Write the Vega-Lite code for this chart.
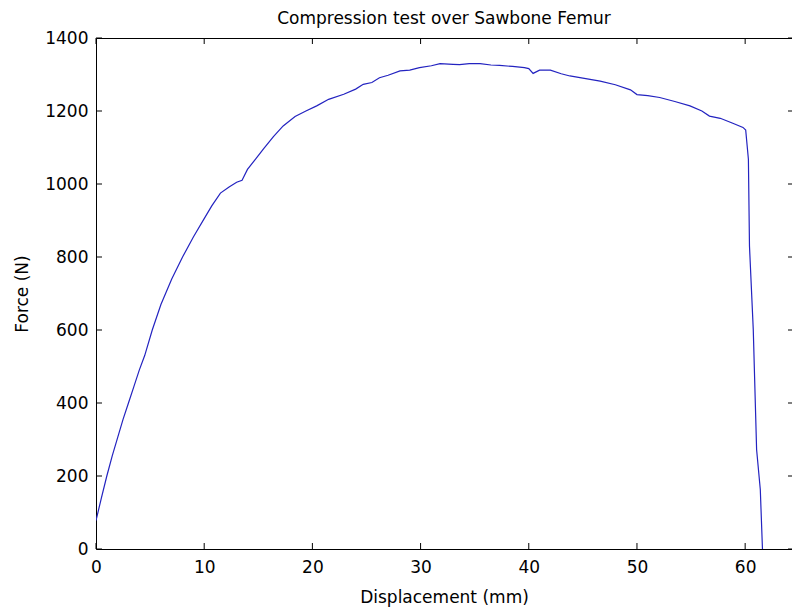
{
  "$schema": "https://vega.github.io/schema/vega-lite/v6.json",
  "width": 696,
  "height": 511,
  "autosize": {"type": "none"},
  "padding": {"left": 96, "top": 38, "right": 0, "bottom": 63},
  "background": "white",
  "title": {"text": "Compression test over Sawbone Femur", "font": "DejaVu Sans", "fontSize": 17, "fontWeight": "normal", "color": "black", "anchor": "middle", "offset": 1},
  "config": {"view": {"stroke": "black", "strokeWidth": 1}, "axis": {"grid": false, "domain": false, "ticks": false, "tickSize": 0, "labelColor": "black", "titleColor": "black", "labelFont": "DejaVu Sans", "titleFont": "DejaVu Sans", "labelFontSize": 17, "titleFontSize": 17, "titleFontWeight": "normal", "format": "d"}},
  "datasets": {
    "curve": [
      {"d": 0, "f": 78}, {"d": 0.5, "f": 140}, {"d": 1.0, "f": 200}, {"d": 1.5, "f": 255}, {"d": 2.0, "f": 305},
      {"d": 2.5, "f": 355}, {"d": 3.0, "f": 400}, {"d": 3.5, "f": 445}, {"d": 4.0, "f": 490}, {"d": 4.5, "f": 530},
      {"d": 5.2, "f": 600}, {"d": 6.0, "f": 670}, {"d": 7.0, "f": 740}, {"d": 8.0, "f": 800}, {"d": 9.0, "f": 855},
      {"d": 10.0, "f": 905}, {"d": 10.7, "f": 940}, {"d": 11.5, "f": 975}, {"d": 12.3, "f": 992}, {"d": 13.0, "f": 1005},
      {"d": 13.5, "f": 1010}, {"d": 14.0, "f": 1040}, {"d": 14.8, "f": 1070}, {"d": 15.5, "f": 1097}, {"d": 16.4, "f": 1130},
      {"d": 17.3, "f": 1159}, {"d": 18.4, "f": 1185}, {"d": 19.4, "f": 1200}, {"d": 20.4, "f": 1214}, {"d": 21.5, "f": 1232},
      {"d": 22.9, "f": 1246}, {"d": 24.0, "f": 1260}, {"d": 24.7, "f": 1273}, {"d": 25.5, "f": 1278}, {"d": 26.2, "f": 1291},
      {"d": 27.0, "f": 1298}, {"d": 28.1, "f": 1310}, {"d": 29.0, "f": 1312}, {"d": 29.9, "f": 1319}, {"d": 31.0, "f": 1324},
      {"d": 31.8, "f": 1330}, {"d": 33.0, "f": 1328}, {"d": 33.6, "f": 1327}, {"d": 34.5, "f": 1330}, {"d": 35.5, "f": 1330},
      {"d": 36.5, "f": 1326}, {"d": 37.3, "f": 1325}, {"d": 38.5, "f": 1322}, {"d": 39.6, "f": 1319}, {"d": 40.0, "f": 1316},
      {"d": 40.4, "f": 1303}, {"d": 41.0, "f": 1312}, {"d": 42.0, "f": 1312}, {"d": 43.0, "f": 1302}, {"d": 43.8, "f": 1296},
      {"d": 45.0, "f": 1290}, {"d": 46.6, "f": 1282}, {"d": 48.0, "f": 1272}, {"d": 49.4, "f": 1258}, {"d": 50.0, "f": 1245},
      {"d": 51.0, "f": 1242}, {"d": 52.1, "f": 1237}, {"d": 53.5, "f": 1226}, {"d": 54.9, "f": 1214}, {"d": 56.0, "f": 1200},
      {"d": 56.7, "f": 1186}, {"d": 57.7, "f": 1180}, {"d": 58.8, "f": 1167}, {"d": 59.8, "f": 1155}, {"d": 60.05, "f": 1148},
      {"d": 60.3, "f": 1068}, {"d": 60.4, "f": 830}, {"d": 60.75, "f": 601}, {"d": 61.06, "f": 272}, {"d": 61.4, "f": 163},
      {"d": 61.6, "f": 0}
    ],
    "xticks": [{"d": 0}, {"d": 10}, {"d": 20}, {"d": 30}, {"d": 40}, {"d": 50}, {"d": 60}],
    "yticks": [{"f": 0}, {"f": 200}, {"f": 400}, {"f": 600}, {"f": 800}, {"f": 1000}, {"f": 1200}, {"f": 1400}]
  },
  "layer": [
    {
      "data": {"name": "curve"},
      "mark": {"type": "line", "color": "#2323c0", "strokeWidth": 1.2, "clip": true},
      "encoding": {
        "x": {"field": "d", "type": "quantitative", "title": "Displacement (mm)", "scale": {"domain": [0, 64.33], "nice": false, "zero": false},
          "axis": {"title": "Displacement (mm)", "values": [0, 10, 20, 30, 40, 50, 60], "labelPadding": 10, "titlePadding": 14, "labelFlush": false}},
        "y": {"field": "f", "type": "quantitative", "title": "Force (N)", "scale": {"domain": [0, 1400], "nice": false},
          "axis": {"title": "Force (N)", "values": [0, 200, 400, 600, 800, 1000, 1200, 1400], "labelPadding": 8, "titlePadding": 13, "labelFlush": false}}
      }
    },
    {
      "data": {"name": "xticks"},
      "mark": {"type": "tick", "orient": "vertical", "color": "black", "size": 6, "thickness": 1, "opacity": 1, "yOffset": -3},
      "encoding": {"x": {"field": "d", "type": "quantitative", "title": "Displacement (mm)"}, "y": {"datum": 0, "type": "quantitative", "title": "Force (N)"}}
    },
    {
      "data": {"name": "xticks"},
      "mark": {"type": "tick", "orient": "vertical", "color": "black", "size": 6, "thickness": 1, "opacity": 1, "yOffset": 3},
      "encoding": {"x": {"field": "d", "type": "quantitative", "title": "Displacement (mm)"}, "y": {"datum": 1400, "type": "quantitative", "title": "Force (N)"}}
    },
    {
      "data": {"name": "yticks"},
      "mark": {"type": "tick", "orient": "horizontal", "color": "black", "size": 6, "thickness": 1, "opacity": 1, "xOffset": 3},
      "encoding": {"y": {"field": "f", "type": "quantitative", "title": "Force (N)"}, "x": {"datum": 0, "type": "quantitative", "title": "Displacement (mm)"}}
    },
    {
      "data": {"name": "yticks"},
      "mark": {"type": "tick", "orient": "horizontal", "color": "black", "size": 4, "thickness": 1, "opacity": 1, "xOffset": -2},
      "encoding": {"y": {"field": "f", "type": "quantitative", "title": "Force (N)"}, "x": {"datum": 64.33, "type": "quantitative", "title": "Displacement (mm)"}}
    }
  ]
}
